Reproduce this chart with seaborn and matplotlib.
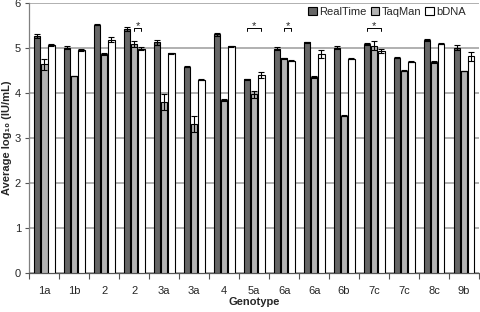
import numpy as np
import pandas as pd
import matplotlib
matplotlib.use("Agg")
import matplotlib.pyplot as plt
import seaborn as sns

genotypes = ["1a", "1b", "2", "2", "3a", "3a", "4", "5a", "6a", "6a", "6b", "7c", "7c", "8c", "9b"]
methods = ["RealTime", "TaqMan", "bDNA"]

realtime = [5.27, 5.01, 5.52, 5.42, 5.13, 4.59, 5.31, 4.31, 4.99, 5.13, 5.01, 5.10, 4.79, 5.18, 5.01]
taqman = [4.64, 4.38, 4.87, 5.09, 3.80, 3.31, 3.84, 3.97, 4.77, 4.36, 3.50, 5.05, 4.50, 4.69, 4.49]
bdna = [5.07, 4.96, 5.19, 4.99, 4.88, 4.30, 5.04, 4.40, 4.72, 4.87, 4.76, 4.94, 4.70, 5.10, 4.82]

realtime_err = [0.04, 0.04, 0.01, 0.05, 0.05, 0.01, 0.03, 0.01, 0.03, 0.01, 0.04, 0.02, 0.01, 0.02, 0.05]
taqman_err = [0.12, 0.01, 0.03, 0.06, 0.17, 0.17, 0.02, 0.07, 0.01, 0.02, 0.01, 0.10, 0.01, 0.03, 0.01]
bdna_err = [0.02, 0.03, 0.05, 0.03, 0.01, 0.01, 0.01, 0.06, 0.01, 0.08, 0.01, 0.05, 0.01, 0.01, 0.10]

# significance brackets: (group index, first method, last method)
sig_pairs = [(3, 1, 2), (7, 0, 2), (8, 1, 2), (11, 0, 2)]

keys = [str(i) for i in range(len(genotypes))]
df = pd.DataFrame({
    "key": keys * 3,
    "method": np.repeat(methods, len(keys)),
    "value": realtime + taqman + bdna,
    "err": realtime_err + taqman_err + bdna_err,
})

sns.set_style("white")
plt.rcParams["font.family"] = ["Liberation Sans", "DejaVu Sans"]

fig = plt.figure(figsize=(4.8, 3.12), dpi=100)
ax = fig.add_axes([0.061, 0.125, 0.937, 0.865])

palette = {"RealTime": "#666666", "TaqMan": "#b3b3b3", "bDNA": "#ffffff"}
sns.barplot(data=df, x="key", y="value", hue="method", order=keys, hue_order=methods,
            palette=palette, errorbar=None, width=0.72, gap=0.1,
            edgecolor="black", linewidth=0.8, ax=ax, zorder=3)

# error bars placed on the seaborn bars
errs = [realtime_err, taqman_err, bdna_err]
centers = []
for cont, err in zip(ax.containers, errs):
    xs = [b.get_x() + b.get_width() / 2 for b in cont]
    ys = [b.get_height() for b in cont]
    centers.append(xs)
    ax.errorbar(xs, ys, yerr=err, fmt="none", ecolor="black", elinewidth=0.8,
                capsize=2.5, capthick=0.8, zorder=4)

for g, a, b in sig_pairs:
    x0, x1 = centers[a][g], centers[b][g]
    ax.plot([x0, x0, x1, x1], [5.38, 5.45, 5.45, 5.38], color="black", lw=0.7, zorder=6)
    ax.text((x0 + x1) / 2, 5.50, "*", ha="center", va="center", fontsize=8, zorder=7)

ax.set_ylim(0, 6)
ax.set_xlim(-0.5, len(keys) - 0.5)
ax.set_yticks(range(7))
ax.yaxis.grid(True, color="#b0b0b0", lw=1.4, zorder=0)
ax.set_axisbelow(True)

ax.set_xticks(range(len(keys)))
ax.set_xticklabels(genotypes)
ax.set_xticks(np.arange(-0.5, len(keys)), minor=True)
ax.tick_params(axis="x", which="major", length=0, pad=9, labelsize=8)
ax.tick_params(axis="x", which="minor", length=4, width=0.8, color="#555555", direction="out", bottom=True)
ax.tick_params(axis="y", length=3, width=0.8, color="#555555", direction="out", left=True, labelsize=8, pad=3)

for side in ["top", "right"]:
    ax.spines[side].set_visible(False)
ax.spines["left"].set_color("#808080")
ax.spines["bottom"].set_color("#555555")
ax.spines["left"].set_linewidth(0.9)
ax.spines["bottom"].set_linewidth(0.9)

ax.set_xlabel("Genotype", fontsize=8, fontweight="bold", labelpad=1)
ax.set_ylabel("Average log\u2081\u2080 (IU/mL)", fontsize=8, fontweight="bold", labelpad=2)

leg = ax.legend(loc="upper right", ncol=3, frameon=False, fontsize=8, handlelength=0.75,
                handleheight=0.75, handletextpad=0.2, columnspacing=0.4,
                bbox_to_anchor=(0.985, 1.01), borderaxespad=0.2)
leg.set_zorder(5)

fig.savefig("out.png", dpi=100)
